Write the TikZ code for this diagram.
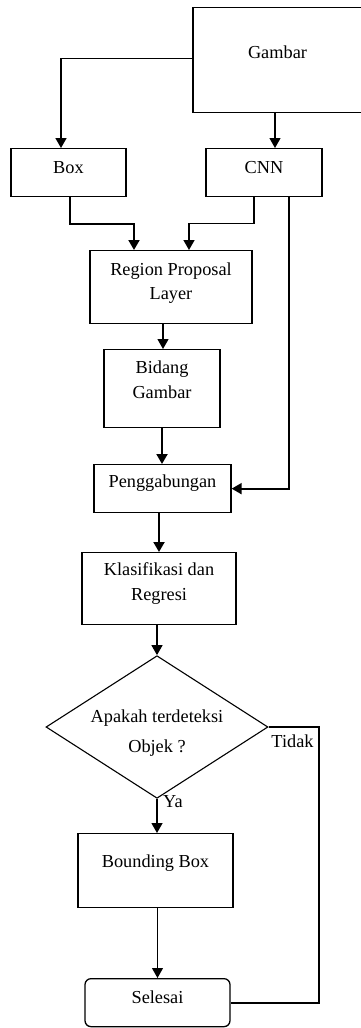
\documentclass[tikz,border=0pt]{standalone}
\usepackage{fontspec}
\setmainfont{Liberation Serif}
\usetikzlibrary{arrows.meta,shapes.geometric}
\newcommand\twol[3]{\vtop{\baselineskip=#3\relax\lineskiplimit=-100pt\halign{\hfil##\hfil\cr#1\cr#2\cr}}}
\tikzset{
  blk/.style={draw, line width=1.3pt, inner sep=0pt, anchor=north},
  arr/.style={-{Triangle[width=11pt,length=10pt]}, line width=#1},
  arr/.default=1.3pt,
  lbl/.style={anchor=base, inner sep=0pt}
}
\begin{document}
\begin{tikzpicture}[x=1pt, y=-1pt, font=\fontsize{18.3}{24}\selectfont]
\useasboundingbox (0,0) rectangle (360,1028);
% boxes
\node[blk, minimum width=169pt, text height=51pt, text depth=54pt] (gambar) at (277.5,7) {Gambar};
\node[blk, minimum width=115pt, text height=25pt, text depth=23pt] (bx) at (68.5,148) {Box};
\node[blk, minimum width=116pt, text height=25pt, text depth=23pt] (cnn) at (264,148) {CNN};
\node[blk, minimum width=162pt, text height=25pt, text depth=48pt] (rpl) at (171,250) {\twol{Region Proposal}{Layer}{24pt}};
\node[blk, minimum width=116pt, text height=24pt, text depth=54pt] (bid) at (162,349) {\twol{Bidang}{Gambar}{25pt}};
\node[blk, minimum width=137pt, text height=23pt, text depth=25pt] (peng) at (162.5,464) {Penggabungan};
\node[blk, minimum width=154pt, text height=23pt, text depth=49pt] (klas) at (159,552) {\twol{Klasifikasi dan}{Regresi}{25pt}};
\node[draw, line width=1.1pt, diamond, inner sep=0pt, minimum width=222pt, minimum height=116pt, text height=0pt, text depth=10pt] (dia) at (157,727) {\twol{Apakah terdeteksi}{Objek ?}{30pt}};
\node[blk, minimum width=155pt, text height=34pt, text depth=40pt] (bb) at (155.5,833) {Bounding Box};
\node[blk, rounded corners=6pt, minimum width=145pt, text height=25pt, text depth=23pt] (sel) at (157.5,978) {Selesai};
% labels
\node[lbl] (ya) at (173,807) {Ya};
\node[lbl] (tidak) at (292.5,747) {Tidak};
% connectors
\coordinate (g1) at ([yshift=1.5pt]gambar.west);
\draw[arr=1.6pt] (g1) -| ([xshift=-7.5pt]bx.north);
\coordinate (g2) at ([xshift=-2.5pt]gambar.south);
\draw[arr=1.3pt] (g2) -- (g2 |- cnn.north);
\draw[arr=2pt] ([xshift=1.5pt]bx.south) -- ++(0,27) -| ([xshift=-37pt]rpl.north);
\draw[arr=1.6pt] ([xshift=-10pt]cnn.south) -- ++(0,26) -| ([xshift=18pt]rpl.north);
\coordinate (c2) at ([xshift=25pt]cnn.south);
\draw[arr=2pt] (c2) -- (c2 |- peng.east) -- (peng.east);
\coordinate (r1) at ([xshift=-8pt]rpl.south);
\draw[arr=1.3pt] (r1) -- (r1 |- bid.north);
\draw[arr=2pt] (bid.south) -- (bid.south |- peng.north);
\draw[arr=2pt] (klas.north |- peng.south) -- (klas.north);
\draw[arr=1.3pt] (dia.north |- klas.south) -- (dia.north);
\draw[arr=1.3pt] (dia.south) -- (dia.south |- bb.north);
\draw[arr=1pt] (sel.north |- bb.south) -- (sel.north);
\coordinate (tc) at ([xshift=50pt]dia.east);
\draw[line width=2pt] (dia.east) -- (tc) |- (sel.east);
\end{tikzpicture}
\end{document}
